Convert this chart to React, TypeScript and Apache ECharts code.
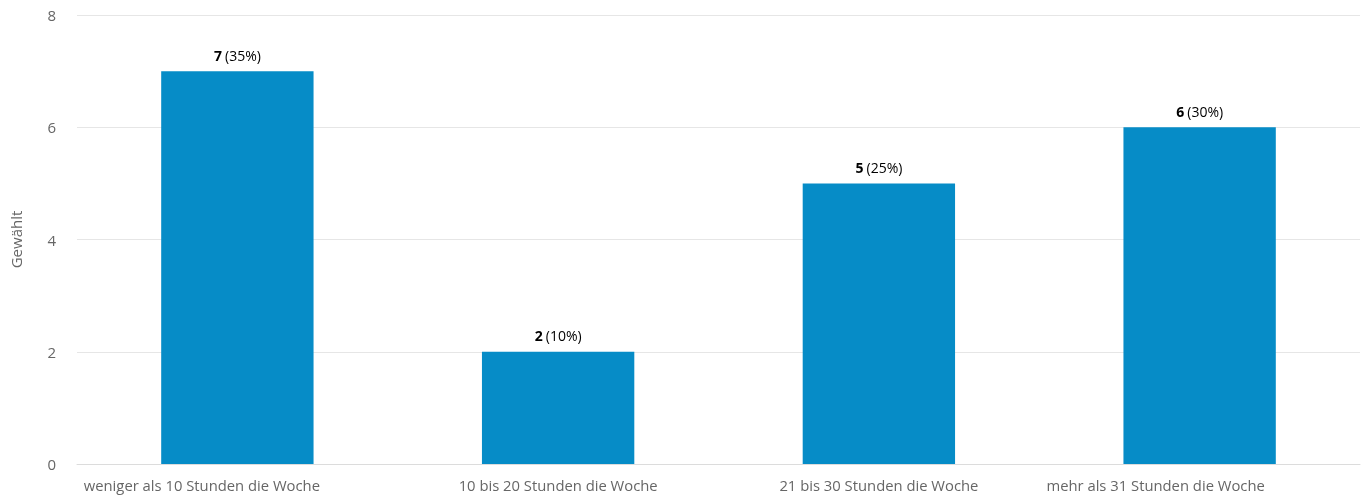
import React, { useEffect, useRef } from "react";
import * as echarts from "echarts";

const categories = [
  "weniger als 10 Stunden die Woche",
  "10 bis 20 Stunden die Woche",
  "21 bis 30 Stunden die Woche",
  "mehr als 31 Stunden die Woche",
];
const counts = [7, 2, 5, 6];
const percents = [35, 10, 25, 30];
const labelShift = [71, 0, 0, 88];

export default function App() {
  const ref = useRef<HTMLDivElement>(null);
  useEffect(() => {
    if (!ref.current) return;
    const chart = echarts.init(ref.current, null, { renderer: "svg" });
    chart.setOption({
      animation: false,
      textStyle: { fontFamily: "Open Sans" },
      grid: { left: 77, right: 1, top: 15, bottom: 34, containLabel: false },
      xAxis: {
        type: "category",
        data: categories.map((c, i) => ({
          value: c,
          textStyle: { padding: [0, labelShift[i], 0, 0] },
        })),
        axisLine: { lineStyle: { color: "#dcdcdc" } },
        axisTick: { show: false },
        axisLabel: { color: "#666666", fontSize: 14.8, margin: 13, fontFamily: "Open Sans" },
      },
      yAxis: {
        type: "value",
        min: 0,
        max: 8,
        interval: 2,
        name: "Gewählt",
        nameLocation: "middle",
        nameGap: 54,
        nameTextStyle: { color: "#666666", fontSize: 15, fontFamily: "Open Sans" },
        axisLine: { show: false },
        axisTick: { show: false },
        axisLabel: { color: "#666666", fontSize: 15, margin: 21, fontFamily: "Open Sans" },
        splitLine: { lineStyle: { color: "#e6e6e6" } },
      },
      series: [
        {
          type: "bar",
          data: counts,
          barWidth: "47.5%",
          itemStyle: { color: "#068cc7" },
          label: {
            show: true,
            position: "top",
            distance: 9,
            formatter: (p: any) => `{b|${counts[p.dataIndex]}} {n|(${percents[p.dataIndex]}%)}`,
            rich: {
              b: { fontWeight: "bold", fontSize: 14, color: "#000", fontFamily: "Open Sans" },
              n: { fontSize: 14, color: "#000", fontFamily: "Open Sans" },
            },
          },
        },
      ],
    });
    return () => chart.dispose();
  }, []);
  return (
    <div
      ref={ref}
      style={{ position: "fixed", left: 0, top: 0, width: 1361, height: 498 }}
    />
  );
}
